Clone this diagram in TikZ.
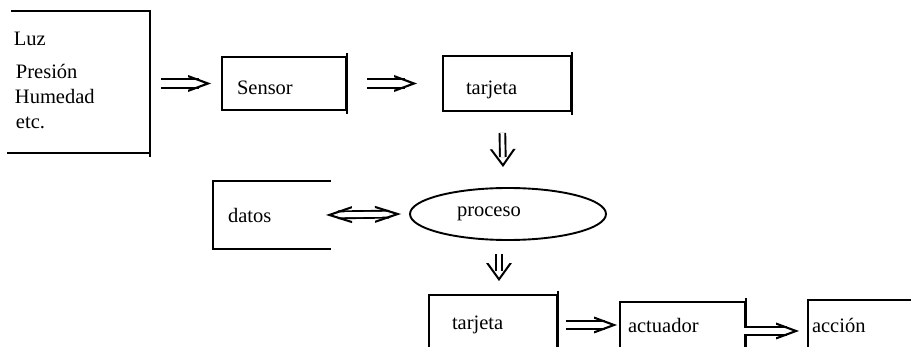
\documentclass[tikz,border=0pt]{standalone}
\usepackage{fontspec}
\setmainfont{Liberation Serif}
\usetikzlibrary{arrows.meta, positioning, calc, shapes.geometric, decorations.markings}

\begin{document}
\begin{tikzpicture}[x=1pt, y=-1pt, line width=1.9pt,
    every node/.style={font=\fontsize{20.5}{24}\selectfont, inner sep=0pt},
    box/.style={draw, rectangle, align=left},
    low/.style={text height=22pt, text depth=0pt},
    chev/.style n args={4}{decoration={markings,
        mark=at position 1 with {\fill (0pt,0pt) -- (-#1,#2) -- (-#1,#2-#4) -- (-#3,0pt)
            -- (-#1,-#2+#4) -- (-#1,-#2) -- cycle;}},
        postaction=decorate},
    imp/.style={double, double distance=6.5pt, line width=1.9pt, shorten >=12pt, chev={23pt}{8.5pt}{6.1pt}{2.2pt}},
    impv/.style={double, double distance=3.8pt, line width=1.9pt, shorten >=10pt, chev={18pt}{13pt}{3.4pt}{2.5pt}},
    iff/.style={double, double distance=5pt, line width=1.9pt, shorten >=12pt, shorten <=12pt,
        decoration={markings,
        mark=at position 0 with {\fill (0pt,0pt) -- (26pt,8.5pt) -- (26pt,6.4pt) -- (6.8pt,0pt)
            -- (26pt,-6.4pt) -- (26pt,-8.5pt) -- cycle;},
        mark=at position 1 with {\fill (0pt,0pt) -- (-26pt,8.5pt) -- (-26pt,6.4pt) -- (-6.8pt,0pt)
            -- (-26pt,-6.4pt) -- (-26pt,-8.5pt) -- cycle;}},
        postaction=decorate}]
    \useasboundingbox (0,0) rectangle (911,347);
    \clip (0,0) rectangle (911,347);

    % entradas
    \node (vars) [minimum width=137pt, minimum height=140pt] at (80.5,82) {};
    \node (luz) [anchor=base west] at (13,46) {Luz};
    \node (pres) [anchor=base west] at (15,79) {Presión};
    \node (hum) [anchor=base west] at (14,104) {Humedad};
    \node (etc) [anchor=base west] at (15,129) {etc.};
    \draw (vars.north west) -- (vars.north east) -- ([yshift=-4pt]vars.south east);
    \draw ([xshift=-4pt]vars.south west) -- (vars.south east);

    \node (sensor) [box, low, text width=94pt, inner xsep=15pt, minimum height=53pt] at (284,83.5) {Sensor};
    \node (tarj1) [box, low, text width=82pt, inner xsep=23pt, minimum height=55pt] at (507,83.5) {tarjeta};

    \node (datos) [text width=88pt, inner xsep=14pt, minimum height=66pt, align=left] at (272,215) {datos};
    \draw (datos.north east) -- (datos.north west) -- (datos.south west) -- (datos.south east);
    \node (proceso) [draw, ellipse, minimum width=196pt, minimum height=52pt,
        text width=102pt, align=left] at (508,214) {proceso};

    \node (tarj2) [box, text width=82pt, inner xsep=23pt, minimum height=60pt] at (493,325) {tarjeta};
    \node (actuador) [box, text width=109pt, inner xsep=8pt, minimum height=46pt] at (682.5,325) {actuador};
    \node (accion) [box, text width=114pt, inner xsep=4pt, minimum height=50pt] at (869,325) {acción};

    \foreach \b in {sensor, tarj1, tarj2, actuador}
        \draw ([yshift=3pt]\b.north east) -- ([yshift=-3pt]\b.south east);

    % flechas
    \draw[imp, shorten <=11pt] (vars.east |- sensor.west) -- ([xshift=-10pt]sensor.west);
    \draw[imp, shorten <=20pt] (sensor.east) -- ([xshift=-25pt]tarj1.west);
    \draw[impv, shorten <=21pt] ([xshift=-5pt]tarj1.south) -- ([xshift=-5pt, yshift=20pt]proceso.north);
    \draw[iff] ([xshift=-5pt]datos.east) -- ([xshift=-8pt]proceso.west);
    \draw[impv, shorten <=13pt] ([xshift=-9pt]proceso.south) -- ([xshift=6pt, yshift=13pt]tarj2.north);
    \draw[imp, shorten <=8pt] (tarj2.east) -- ([xshift=-2pt]actuador.west);
    \draw[imp, shorten <=-2pt] ([yshift=-6pt]actuador.east) -- ([xshift=-8pt, yshift=-6pt]accion.west);
\end{tikzpicture}
\end{document}
